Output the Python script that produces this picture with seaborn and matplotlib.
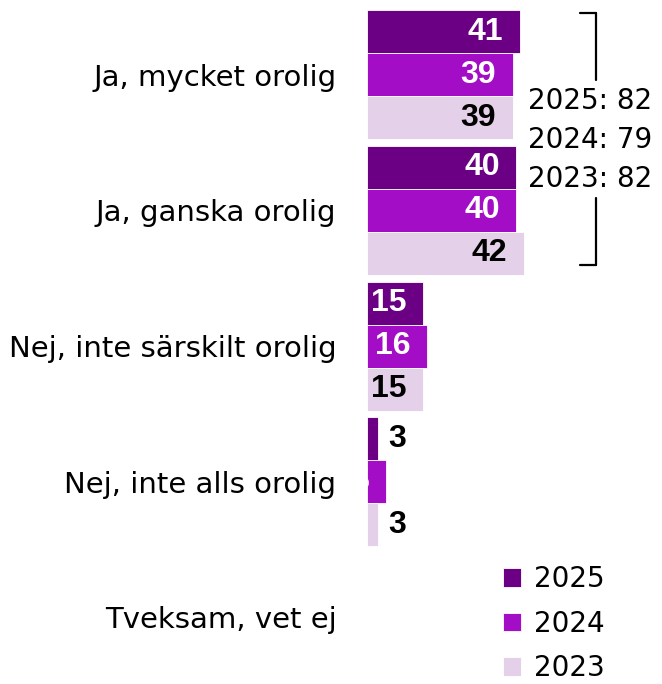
import matplotlib

matplotlib.use('Agg')
import matplotlib.pyplot as plt
import seaborn as sns
import pandas as pd
from matplotlib.lines import Line2D

# data
categories = ['Ja, mycket orolig', 'Ja, ganska orolig', 'Nej, inte särskilt orolig',
              'Nej, inte alls orolig', 'Tveksam, vet ej']
years = ['2025', '2024', '2023']
v2025 = [41, 40, 15, 3, 0]
v2024 = [39, 40, 16, 5, 0]
v2023 = [39, 42, 15, 3, 0]
totals = ['2025: 82', '2024: 79', '2023: 82']

colors = {'2025': '#6B0085', '2024': '#A30DC5', '2023': '#E4D0E8'}
label_colors = {'2025': 'white', '2024': 'white', '2023': 'black'}

df = pd.DataFrame({
    'kategori': categories * 3,
    'år': ['2025'] * 5 + ['2024'] * 5 + ['2023'] * 5,
    'andel': v2025 + v2024 + v2023,
})

sns.set_style('white')
plt.rcParams['font.family'] = ['DejaVu Sans']
plt.rcParams['text.color'] = 'black'
plt.rcParams['ytick.color'] = 'black'

fig = plt.figure(figsize=(6.62, 6.84), dpi=100)
ax = fig.add_axes([367 / 662, 0, 1 - 367 / 662, 1])

sns.barplot(data=df, y='kategori', x='andel', hue='år', hue_order=years,
            order=categories, palette=colors, saturation=1, width=0.95, orient='h',
            edgecolor='white', linewidth=0.6, ax=ax)

ax.set_xlim(0, 79)
ax.set_ylim(4.49, -0.55)
ax.set_xlabel('')
ax.set_ylabel('')
ax.set_xticks([])
ax.tick_params(axis='y', length=0, pad=22, labelsize=21, labelcolor='black')
sns.despine(ax=ax, left=True, bottom=True, top=True, right=True)

# value labels
num_font = dict(family='Liberation Sans', fontsize=23, fontweight='bold')
for cont, yr in zip(ax.containers, years):
    for bar in cont:
        v = bar.get_width()
        if v <= 0:
            continue
        yc = bar.get_y() + bar.get_height() / 2
        if v >= 5:
            ax.annotate(f'{v:.0f}', (v, yc), xytext=(-12, 0), textcoords='offset points',
                        ha='right', va='center', color=label_colors[yr],
                        annotation_clip=False, **num_font)
        else:
            ax.annotate(f'{v:.0f}', (v, yc), xytext=(7, 0), textcoords='offset points',
                        ha='left', va='center', color='black', **num_font)

# bracket with totals
W, H = 662, 684
def fx(px): return px / W
def fy(py): return 1 - py / H

for (x0, y0, x1, y1) in [(580, 13, 596, 13), (596, 13, 596, 80),
                         (596, 198, 596, 265), (580, 265, 596, 265)]:
    fig.add_artist(Line2D([fx(x0), fx(x1)], [fy(y0), fy(y1)], color='black', lw=1.6,
                          transform=fig.transFigure))
for i, t in enumerate(totals):
    fig.text(fx(528), fy(101 + 39 * i), t, ha='left', va='center', fontsize=20)

handles, labels = ax.get_legend_handles_labels()
ax.legend(handles, labels, loc='upper left', bbox_to_anchor=(fx(503), fy(565)),
          bbox_transform=fig.transFigure, frameon=False, fontsize=20,
          handlelength=0.65, handleheight=0.65, handletextpad=0.45,
          labelspacing=0.6, borderpad=0, borderaxespad=0)

plt.savefig('out.png', dpi=100)
